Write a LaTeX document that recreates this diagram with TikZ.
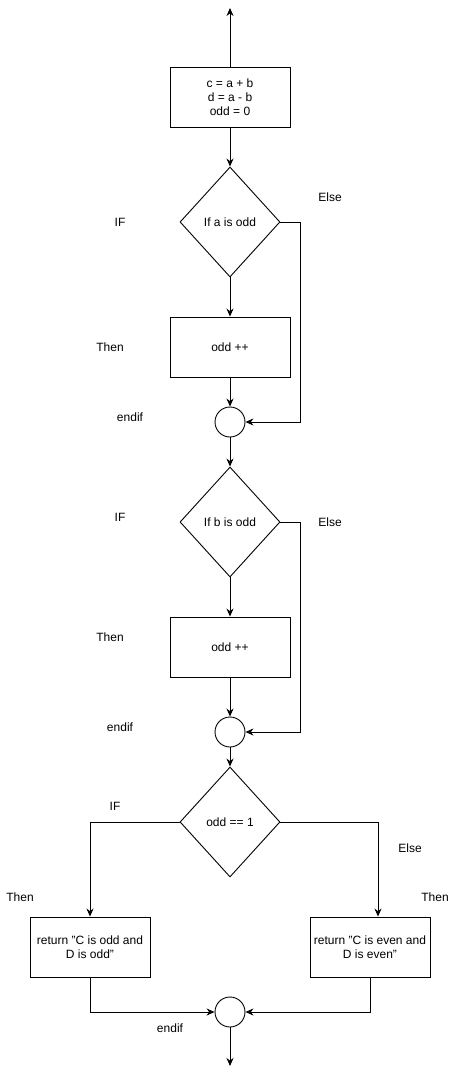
\documentclass[tikz,border=0pt]{standalone}
\usepackage{fontspec}
\setmainfont{Liberation Sans}
\usetikzlibrary{shapes.geometric,arrows.meta}
\newcommand{\sq}{\char34 }
\begin{document}
\begin{tikzpicture}[x=1pt,y=-1pt,line width=0.9pt,
  every node/.style={font=\fontsize{12}{14}\selectfont},
  proc/.style={draw,rectangle,minimum width=120pt,minimum height=60pt,align=center,inner sep=1pt},
  dec/.style={draw,diamond,minimum width=100pt,minimum height=110pt,inner sep=0pt,aspect=0.9},
  junc/.style={draw,circle,minimum size=30pt,inner sep=0pt},
  lbl/.style={inner sep=0pt},
  arr/.style={-{Stealth[length=8pt,width=7pt]}}]
\useasboundingbox (0,0) rectangle (456,1076);
\coordinate (top) at (230,8);
\node[proc] (b1) at (230,97) {c = a + b\\d = a - b\\odd = 0};
\node[dec] (d1) at (230,222) {If a is odd};
\node[proc] (b2) at (230,347) {odd ++};
\node[junc] (c1) at (230,422) {};
\node[dec] (d2) at (230,522) {If b is odd};
\node[proc] (b3) at (230,647) {odd ++};
\node[junc] (c2) at (230,732) {};
\node[dec] (d3) at (230,822) {odd == 1};
\node[proc] (b4) at (90,947) {return \sq C is odd and\\D is odd\sq};
\node[proc] (b5) at (370,947) {return \sq C is even and\\D is even\sq};
\node[junc] (c3) at (230,1012) {};
\coordinate (bot) at (230,1066);

\node[lbl] (l1) at (120,222) {IF};
\node[lbl] (l2) at (330,197) {Else};
\node[lbl] (l3) at (110,347) {Then};
\node[lbl] (l4) at (130,417) {endif};
\node[lbl] (l5) at (120,517) {IF};
\node[lbl] (l6) at (330,522) {Else};
\node[lbl] (l7) at (110,637) {Then};
\node[lbl] (l8) at (120,727) {endif};
\node[lbl] (l9) at (115,806) {IF};
\node[lbl] (l10) at (410,848) {Else};
\node[lbl] (l11) at (20,897) {Then};
\node[lbl] (l12) at (435,897) {Then};
\node[lbl] (l13) at (170,1028) {endif};

\draw[arr] (b1.north) -- (top);
\draw[arr] (b1.south) -- (d1.north);
\draw[arr] (d1.south) -- (b2.north);
\draw[arr] (b2.south) -- (c1.north);
\draw[arr] (d1.east) -- (300,222) |- (c1.east);
\draw[arr] (c1.south) -- (d2.north);
\draw[arr] (d2.south) -- (b3.north);
\draw[arr] (b3.south) -- (c2.north);
\draw[arr] (d2.east) -- (300,522) |- (c2.east);
\draw[arr] (c2.south) -- (d3.north);
\draw[arr] (d3.west) -| (b4.north);
\draw[arr] (d3.east) -| ([xshift=8pt]b5.north);
\draw[arr] (b4.south) |- (c3.west);
\draw[arr] (b5.south) |- (c3.east);
\draw[arr] (c3.south) -- (bot);
\end{tikzpicture}
\end{document}
